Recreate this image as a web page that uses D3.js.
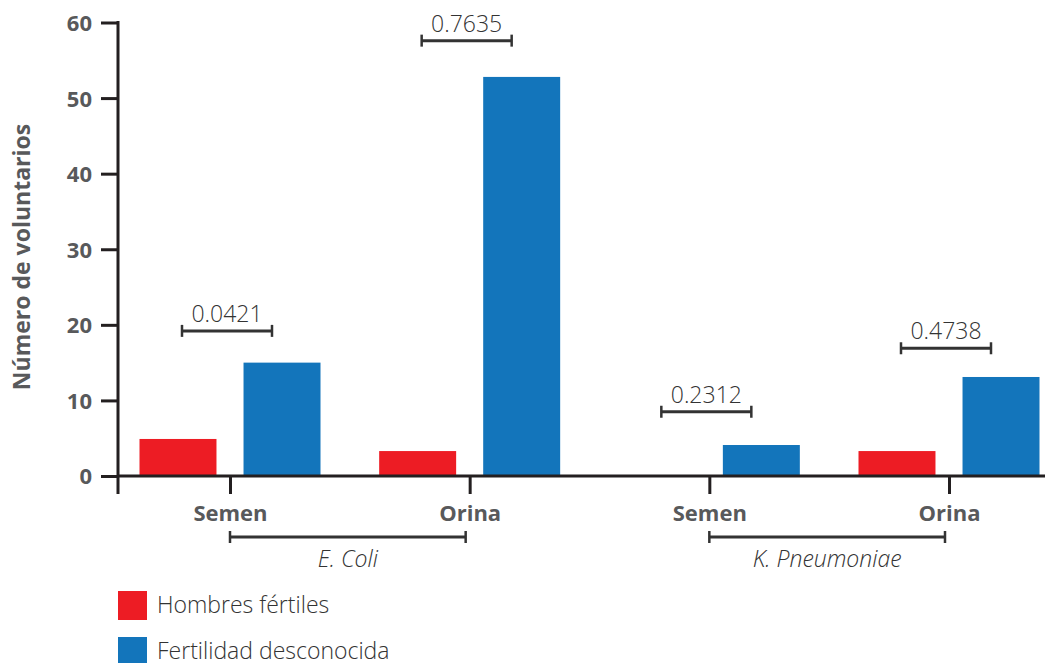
<!DOCTYPE html>
<html>
<head>
<meta charset="utf-8">
<script src="https://cdn.jsdelivr.net/npm/d3@7"></script>
<style>
  html, body { margin: 0; padding: 0; background: #fff; }
  svg { display: block; }
</style>
</head>
<body>
<svg id="chart" width="1045" height="663"></svg>
<script>
// ---- data ----
const groups = ["Semen|E. Coli", "Orina|E. Coli", "Semen|K. Pneumoniae", "Orina|K. Pneumoniae"];
const groupLabels = ["Semen", "Orina", "Semen", "Orina"];
const bacteria = ["E. Coli", "K. Pneumoniae"];
const seriesNames = ["Hombres fértiles", "Fertilidad desconocida"];
const fertiles = [4.9, 3.3, 0, 3.3];
const desconocida = [15, 52.8, 4.1, 13.1];
const pValues = ["0.0421", "0.7635", "0.2312", "0.4738"];
const bracketLevels = [19.2, 57.6, 8.5, 16.9];
const yTicks = [0, 10, 20, 30, 40, 50, 60];
const colors = ["#ed1c24", "#1375bb"];

// ---- layout ----
const svg = d3.select("#chart");
const axisX = 118, y0 = 476, yTop = 22.5;
const y = d3.scaleLinear().domain([0, 60]).range([y0, yTop]);
const x = d3.scalePoint().domain(groups).range([230, 949]);
const sub = d3.scaleBand().domain(seriesNames).range([-90.5, 90.5]).paddingInner(0.26);

const boldFont = "'Open Sans', sans-serif";
const lightFont = "'Open Sans', sans-serif";
const gray = "#58595b";
const dark = "#231f20";

// bars
const data = groups.map((g, i) => ({g, vals: [fertiles[i], desconocida[i]]}));
const gSel = svg.append("g").selectAll("g").data(data).join("g")
  .attr("transform", d => `translate(${x(d.g)},0)`);
gSel.selectAll("rect").data(d => d.vals.map((v, k) => ({v, k})))
  .join("rect")
  .attr("x", d => sub(seriesNames[d.k]))
  .attr("width", sub.bandwidth())
  .attr("y", d => y(d.v))
  .attr("height", d => y0 - y(d.v))
  .attr("fill", d => colors[d.k]);

// y axis
const yAxis = d3.axisLeft(y).tickValues(yTicks).tickSize(17).tickPadding(9);
const ya = svg.append("g").attr("transform", `translate(${axisX},0)`).call(yAxis);
ya.select(".domain").remove();
ya.selectAll(".tick line").attr("stroke", dark).attr("stroke-width", 3);
ya.selectAll(".tick text").attr("fill", gray).attr("font-family", boldFont)
  .attr("font-weight", 700).attr("font-size", 22).attr("dy", "0.36em");
svg.append("line").attr("x1", axisX).attr("x2", axisX).attr("y1", yTop - 1.5).attr("y2", 494)
  .attr("stroke", dark).attr("stroke-width", 3);

// x axis
svg.append("line").attr("x1", axisX).attr("x2", 1045).attr("y1", y0).attr("y2", y0)
  .attr("stroke", dark).attr("stroke-width", 3);
const xAxis = d3.axisBottom(x).tickSize(18).tickPadding(11).tickFormat((d, i) => groupLabels[i]);
const xa = svg.append("g").attr("transform", `translate(0,${y0})`).call(xAxis);
xa.select(".domain").remove();
xa.selectAll(".tick line").attr("stroke", dark).attr("stroke-width", 3);
xa.selectAll(".tick text").attr("fill", gray).attr("font-family", boldFont)
  .attr("font-weight", 700).attr("font-size", 22);

// y axis title
svg.append("text")
  .attr("transform", `translate(30,257) rotate(-90)`)
  .attr("text-anchor", "middle")
  .attr("fill", gray).attr("font-family", boldFont).attr("font-weight", 700).attr("font-size", 23)
  .text("Número de voluntarios");

// bracket helper
function bracket(xa1, xa2, yy, cap) {
  const g = svg.append("g").attr("stroke", "#333").attr("stroke-width", 3).attr("fill", "none");
  g.append("line").attr("x1", xa1).attr("x2", xa2).attr("y1", yy).attr("y2", yy);
  g.append("line").attr("x1", xa1).attr("x2", xa1).attr("y1", yy - cap).attr("y2", yy + cap).attr("stroke-width", 2.5);
  g.append("line").attr("x1", xa2).attr("x2", xa2).attr("y1", yy - cap).attr("y2", yy + cap).attr("stroke-width", 2.5);
}

// p-value brackets
groups.forEach((g, i) => {
  const cx = x(g) - 3;
  const yy = y(bracketLevels[i]);
  bracket(cx - 45, cx + 45, yy, 6);
  svg.append("text").attr("x", cx).attr("y", yy - 9).attr("text-anchor", "middle")
    .attr("fill", "#333").attr("font-family", lightFont).attr("font-weight", 300).attr("font-size", 23)
    .text(pValues[i]);
});

// bacteria brackets
bacteria.forEach((b, i) => {
  const x1 = x(groups[i * 2]), x2 = x(groups[i * 2 + 1]) - 4;
  bracket(x1, x2, 537, 6);
  svg.append("text").attr("x", (x1 + x2) / 2).attr("y", 567).attr("text-anchor", "middle")
    .attr("fill", "#333").attr("font-family", lightFont).attr("font-weight", 300)
    .attr("font-style", "italic").attr("font-size", 23)
    .text(b);
});

// legend
const lg = svg.append("g").selectAll("g").data(seriesNames).join("g")
  .attr("transform", (d, i) => `translate(118,${591 + i * 46})`);
lg.append("rect").attr("width", 29).attr("height", 29).attr("fill", (d, i) => colors[i]);
lg.append("text").attr("x", 39).attr("y", 22)
  .attr("fill", "#333").attr("font-family", lightFont).attr("font-weight", 300).attr("font-size", 23)
  .text(d => d);
</script>
</body>
</html>
